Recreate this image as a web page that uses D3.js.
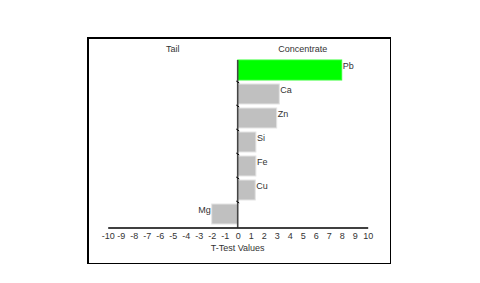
<!DOCTYPE html>
<html><head><meta charset="utf-8">
<script src="https://cdn.jsdelivr.net/npm/d3@7"></script>
<style>body{margin:0;background:#fff}svg{display:block}text{font-family:"Liberation Sans",Arial,sans-serif;fill:#333}</style>
</head><body><svg id="c" width="480" height="283"></svg>
<script>
const categories = ["Pb","Ca","Zn","Si","Fe","Cu","Mg"];
const values = [8.0, 3.2, 3.0, 1.4, 1.4, 1.35, -2.0];
const highlight = ["Pb"];
const tickValues = d3.range(-10, 11, 1);
const sideLabels = ["Tail","Concentrate"];
const axisTitle = "T-Test Values";

const svg = d3.select("#c");
// frame
svg.append("line").attr("x1",88).attr("y1",38).attr("x2",391).attr("y2",38).attr("stroke","#000").attr("stroke-width",2);
svg.append("line").attr("x1",88).attr("y1",37).attr("x2",88).attr("y2",264).attr("stroke","#000").attr("stroke-width",2);
svg.append("line").attr("x1",390.5).attr("y1",38).attr("x2",390.5).attr("y2",264).attr("stroke","#000").attr("stroke-width",1);
svg.append("line").attr("x1",88).attr("y1",263.5).attr("x2",391).attr("y2",263.5).attr("stroke","#000").attr("stroke-width",1);

const x = d3.scaleLinear().domain([-10,10]).range([107.7,367.7]);
const y = d3.scaleBand().domain(categories).range([58,226]).paddingInner(1/6).paddingOuter(1/12);
const axisY = 227.5;

// bars
svg.selectAll("rect.bar").data(categories).join("rect")
  .attr("x",(d,i)=>x(Math.min(0,values[i])))
  .attr("y",d=>y(d))
  .attr("width",(d,i)=>Math.abs(x(values[i])-x(0)))
  .attr("height",y.bandwidth())
  .attr("fill",d=>highlight.includes(d)?"#00ff00":"#c0c0c0")
  .attr("stroke",d=>highlight.includes(d)?"#33ff33":"#e4e4e4")
  .attr("stroke-width",1);

// bar labels
svg.selectAll("text.lbl").data(categories).join("text")
  .attr("x",(d,i)=>values[i]>=0 ? x(values[i])+1 : x(values[i])-1)
  .attr("y",d=>y(d)+9)
  .attr("text-anchor",(d,i)=>values[i]>=0?"start":"end")
  .attr("font-size",9)
  .text(d=>d);

// zero line
svg.append("line").attr("x1",x(0)).attr("x2",x(0)).attr("y1",y(categories[0])).attr("y2",axisY)
  .attr("stroke","#444").attr("stroke-width",1.6);
// category ticks on zero line
svg.selectAll("line.ct").data(categories.slice(1)).join("line")
  .attr("x1",x(0)-1.5).attr("x2",x(0)+1.5)
  .attr("y1",d=>y(d)-y.step()*y.paddingInner()/2-1).attr("y2",d=>y(d)-y.step()*y.paddingInner()/2+1)
  .attr("stroke","#000").attr("stroke-width",1);

// x axis
const ax = svg.append("g").attr("transform",`translate(0,${axisY})`)
  .call(d3.axisBottom(x).tickValues(tickValues).tickSize(0).tickPadding(5).tickFormat(d=>String(d)));
ax.select(".domain").attr("stroke","#000").attr("stroke-width",1.6);
ax.selectAll("text").attr("font-size",9).attr("fill","#333").attr("font-family","Liberation Sans, Arial, sans-serif");

svg.append("text").attr("x",x(0)).attr("y",251).attr("text-anchor","middle").attr("font-size",9).text(axisTitle);
svg.append("text").attr("x",x(-5)).attr("y",52).attr("text-anchor","middle").attr("font-size",9).text(sideLabels[0]);
svg.append("text").attr("x",x(5)).attr("y",52).attr("text-anchor","middle").attr("font-size",9).text(sideLabels[1]);
</script></body></html>
